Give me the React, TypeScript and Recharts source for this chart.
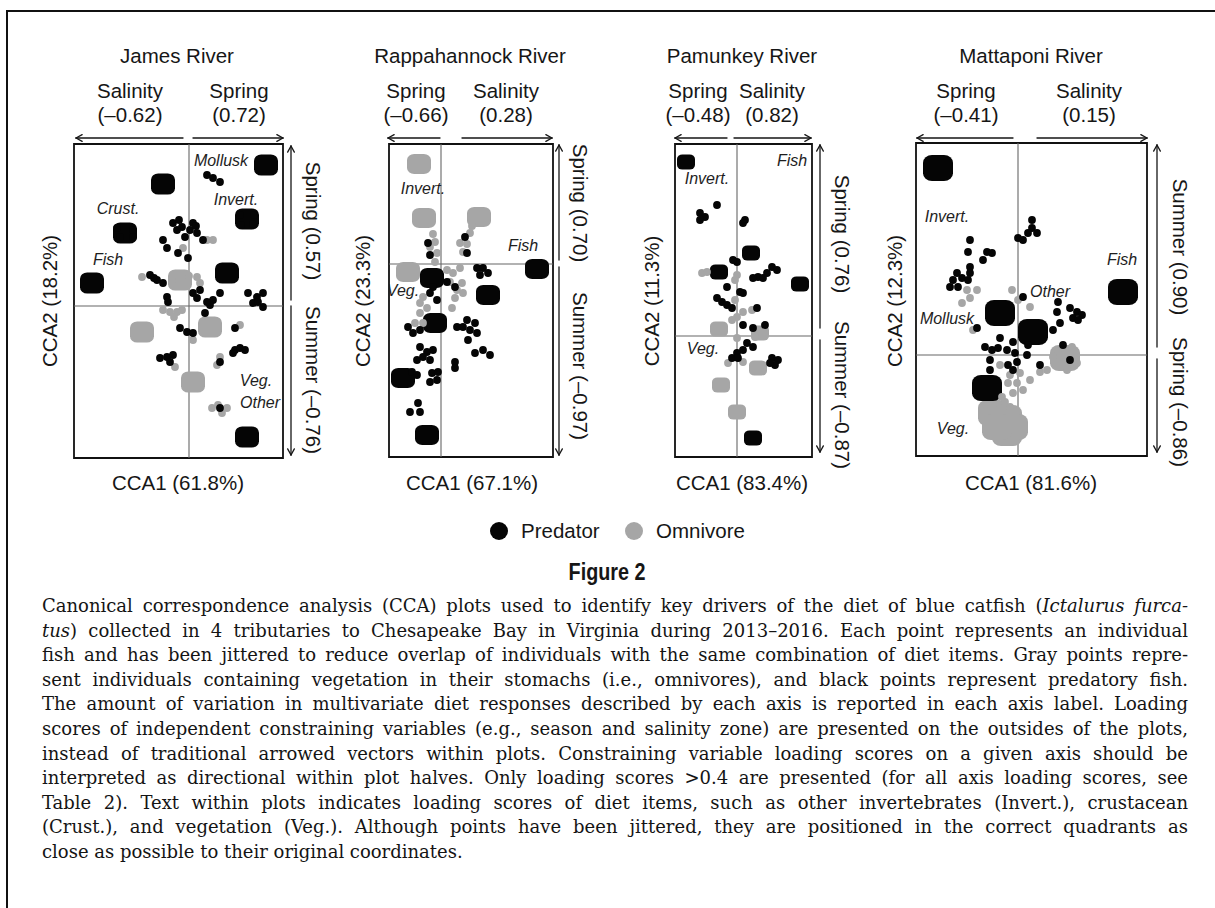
import React from 'react';
import { ScatterChart, Scatter, XAxis, YAxis, ReferenceLine, ReferenceArea } from 'recharts';

type Pt = [number, number];
type DietLabel = { label: string; x: number; y: number };

// ---------------- James River ----------------
const jamesPredator: Pt[] = [
  [0.36, 2.62], [0.48, 2.56], [0.62, 2.48],
  [-0.32, 1.66], [-0.14, 1.58], [0.08, 1.66], [0.16, 1.46], [-0.08, 1.38], [-0.24, 1.52], [0.02, 1.52], [0.28, 1.32], [-0.2, 1.72], [0.14, 1.6],
  [-0.52, 1.32], [-0.44, 1.16], [-0.22, 1.06], [-0.02, 0.96],
  [-0.78, 0.62], [-0.64, 0.52], [-0.52, 0.46], [-0.7, 0.56],
  [0.08, 0.26], [0.22, 0.32], [0.48, 0.12], [0.42, 0.02], [0.32, -0.14], [0.16, 0.16], [0.62, 0.26], [0.36, 0.08],
  [1.18, 0.26], [1.36, 0.18], [1.48, 0.26], [1.28, 0.06], [1.48, -0.02], [1.38, 0.08],
  [-0.44, 0.18], [-0.42, 0.08],
  [-0.18, -0.44], [-0.04, -0.52], [0.08, -0.54],
  [0.92, -0.44],
  [0.92, -0.88], [1.02, -0.84], [1.12, -0.88], [0.88, -0.94],
  [0.62, -1.12],
  [-0.58, -1.04], [-0.44, -1.02], [-0.32, -0.98], [-0.38, -1.12],
  [0.62, -2.04],
  [-1.44, 1.56], [-1.12, 1.52], [-1.38, 1.38], [-1.12, 1.38],
  [1.02, 1.82], [1.3, 1.82], [1.04, 1.62], [1.28, 1.64],
];
const jamesOmnivore: Pt[] = [
  [0.36, 1.32], [0.48, 1.32], [-0.12, 1.16],
  [-0.94, 0.58], [0.16, 0.58], [0.22, 0.46], [-0.34, 0.5], [0.0, 0.6],
  [-0.52, -0.08], [-0.38, -0.12], [-0.24, -0.12], [-0.14, -0.08], [-0.3, -0.22],
  [0.08, -0.68], [1.02, -0.38],
  [0.62, -1.02], [0.56, -1.18],
  [-0.28, -1.22],
  [0.46, -2.04], [0.58, -1.98], [0.76, -2.04], [0.66, -2.14],
];
const jamesPredatorClusters: Pt[] = [
  [1.54, 2.82], [-0.52, 2.44], [1.16, 1.74], [-1.28, 1.46], [-1.94, 0.46], [0.76, 0.66], [1.16, -2.62],
];
const jamesOmnivoreClusters: Pt[] = [
  [-0.18, 0.52], [-0.94, -0.52], [0.42, -0.42], [0.08, -1.52],
];
const jamesDiet: DietLabel[] = [
  { label: 'Mollusk', x: 0.64, y: 2.92 },
  { label: 'Invert.', x: 0.94, y: 2.14 },
  { label: 'Crust.', x: -1.42, y: 1.96 },
  { label: 'Fish', x: -1.62, y: 0.94 },
  { label: 'Veg.', x: 1.34, y: -1.48 },
  { label: 'Other', x: 1.42, y: -1.92 },
];

// ---------------- Rappahannock River ----------------
const rappPredator: Pt[] = [
  [0.48, 0.54], [0.52, 0.22], [-0.26, 0.42], [-0.22, 0.18],
  [0.72, -0.08], [0.84, -0.08], [0.94, -0.18], [0.78, -0.22],
  [0.12, -0.36], [0.28, -0.46],
  [-0.22, -0.58], [-0.08, -0.72], [-0.16, -0.46],
  [-0.66, -1.26], [-0.56, -1.38], [-0.42, -1.32],
  [0.52, -1.12], [0.68, -1.18], [0.44, -1.26], [0.58, -1.32], [0.72, -1.38], [0.54, -1.52], [0.32, -1.26],
  [-0.42, -1.66], [-0.28, -1.76], [-0.16, -1.72], [-0.36, -1.86], [-0.48, -1.92], [-0.22, -1.92],
  [0.84, -1.72], [0.98, -1.82], [0.68, -1.78], [0.28, -1.96], [0.28, -2.08],
  [-0.58, -2.16], [-0.48, -2.22],
  [-0.18, -2.18], [-0.06, -2.16], [-0.22, -2.36], [-0.08, -2.32],
  [-0.46, -2.78], [-0.62, -2.96], [-0.42, -2.96],
];
const rappOmnivore: Pt[] = [
  [0.58, 0.62], [0.62, 0.76], [0.38, 0.42], [0.44, 0.24], [0.52, 0.4],
  [-0.12, 0.44], [-0.22, 0.34], [-0.08, 0.22], [-0.12, 0.04], [-0.16, 0.6],
  [0.12, -0.12], [0.24, -0.18], [0.38, -0.08], [0.18, -0.36], [0.42, -0.38], [0.32, -0.52], [0.44, -0.58], [0.28, -0.68], [0.22, -0.88],
  [-0.36, -0.66], [-0.42, -0.78], [-0.28, -0.88], [-0.42, -0.98], [-0.52, -1.18], [-0.36, -1.18],
];
const rappPredatorClusters: Pt[] = [
  [1.92, -0.1], [-0.18, -0.28], [0.94, -0.62], [-0.12, -1.18], [-0.76, -2.28], [-0.28, -3.42],
];
const rappOmnivoreClusters: Pt[] = [
  [-0.44, 2.0], [-0.34, 0.92], [0.76, 0.94], [-0.66, -0.16],
];
const rappDiet: DietLabel[] = [
  { label: 'Invert.', x: -0.36, y: 1.52 },
  { label: 'Fish', x: 1.64, y: 0.38 },
  { label: 'Veg.', x: -0.76, y: -0.52 },
];

// ---------------- Pamunkey River ----------------
const pamPredator: Pt[] = [
  [-0.4, 2.62], [-0.74, 2.46], [-0.64, 2.38], [-0.74, 2.32], [0.16, 2.32], [0.12, 2.26],
  [0, 1.48], [-0.08, 1.52],
  [0.7, 1.38], [0.8, 1.32], [0.6, 1.26], [0.42, 1.18], [0.52, 1.16], [0.32, 1.16],
  [-0.2, 0.98], [0.12, 0.86], [0.06, 0.88],
  [-0.4, 0.76], [-0.3, 0.68], [-0.2, 0.62], [-0.1, 0.56],
  [0.4, 0.56], [0.12, 0.22], [0.56, 0.22], [0.32, 0.16],
  [0.2, -0.14], [0.32, -0.22], [0.12, -0.28], [0, -0.34], [-0.1, -0.44], [0.02, -0.44],
  [0.7, -0.44], [0.82, -0.48], [0.76, -0.58], [0.66, -0.54],
];
const pamOmnivore: Pt[] = [
  [-0.7, 1.26], [-0.6, 1.28], [0, 1.22], [-0.04, 1.12],
  [-0.04, 0.72], [0.12, 0.48], [0.3, 0.52], [0, 0.38], [-0.1, 0.32],
  [0.36, -0.02], [0, -0.04], [-0.18, -0.54], [0.12, -0.52],
];
const pamPredatorClusters: Pt[] = [
  [-1.02, 3.48], [0.28, 1.66], [-0.36, 1.28], [1.26, 1.04], [0.32, -2.04],
];
const pamOmnivoreClusters: Pt[] = [
  [-0.36, 0.14], [0.46, 0.06], [0.42, -0.64], [-0.32, -0.98], [0, -1.52],
];
const pamDiet: DietLabel[] = [
  { label: 'Invert.', x: -0.6, y: 3.16 },
  { label: 'Fish', x: 1.1, y: 3.52 },
  { label: 'Veg.', x: -0.68, y: -0.24 },
];

// ---------------- Mattaponi River ----------------
const mattPredator: Pt[] = [
  [0.28, 2.7], [0.28, 2.54], [0.38, 2.44], [0.2, 2.44], [0, 2.34], [0.1, 2.3],
  [-0.96, 2.3], [-1, 2.06], [-0.62, 2.06], [-0.52, 2.04], [-0.7, 1.9], [-0.96, 1.76], [-0.96, 1.64], [-1.22, 1.64],
  [-1.3, 1.5], [-1.12, 1.54], [-1.36, 1.36], [-1.2, 1.36], [-1, 1.5],
  [0.1, 1.16], [0.8, 1.06], [0.78, 0.86], [0.84, 0.64], [0.7, 0.5],
  [1.04, 0.94], [1.18, 0.86], [1.28, 0.8], [1.1, 0.74], [1.2, 0.7],
  [-0.82, 0.54],
  [-0.66, 0.16], [-0.52, 0.1], [-0.4, 0.14], [-0.22, 0.1], [-0.36, 0.34], [-0.1, 0.26], [-0.06, 0.04], [-0.56, -0.1],
  [0.2, 0.2], [0.18, 0], [0.44, -0.2], [-0.02, -0.14], [-0.2, -0.2], [-0.1, -0.3], [0.9, 0.2], [1.04, -0.1],
  [-0.56, -0.3],
];
const mattOmnivore: Pt[] = [
  [-1.02, 1.3], [-0.82, 1.3], [-1.12, 1.04], [-0.96, 1.14], [-0.12, 1.3], [0, 1.1], [0.24, 0.96],
  [-0.9, 0.5],
  [0.7, -0.04], [1.18, -0.16], [0.98, -0.3], [0.8, 0.1], [1.08, 0.16],
  [-0.36, -0.2], [-0.16, -0.4], [0.04, -0.36], [0.24, -0.5], [0.44, -0.34], [0.58, -0.3], [-0.02, -0.56], [-0.2, -0.56],
  [0.1, -0.7], [-0.1, -0.76], [-0.26, -0.94], [-0.16, -1.04], [-0.32, -0.84],
];
const mattPredatorClusters: Pt[] = [
  [-1.6, 3.74], [2.1, 1.26], [-0.36, 0.84], [0.3, 0.46], [-0.62, -0.66],
];
const mattOmnivoreClusters: Pt[] = [
  [0.94, -0.06], [-0.5, -1.16], [-0.22, -1.26], [-0.22, -1.56], [-0.1, -1.44], [-0.42, -1.44],
];
const mattDiet: DietLabel[] = [
  { label: 'Invert.', x: -1.42, y: 2.78 },
  { label: 'Fish', x: 2.08, y: 1.92 },
  { label: 'Other', x: 0.64, y: 1.28 },
  { label: 'Mollusk', x: -1.42, y: 0.74 },
  { label: 'Veg.', x: -1.3, y: -1.46 },
];

// ---------------- Text ----------------
const riverNames = ['James River', 'Rappahannock River', 'Pamunkey River', 'Mattaponi River'];
const xAxisLabels = ['CCA1 (61.8%)', 'CCA1 (67.1%)', 'CCA1 (83.4%)', 'CCA1 (81.6%)'];
const yAxisLabels = ['CCA2 (18.2%)', 'CCA2 (23.3%)', 'CCA2 (11.3%)', 'CCA2 (12.3%)'];
const topLoadings: [string, string][][] = [
  [['Salinity', '(–0.62)'], ['Spring', '(0.72)']],
  [['Spring', '(–0.66)'], ['Salinity', '(0.28)']],
  [['Spring', '(–0.48)'], ['Salinity', '(0.82)']],
  [['Spring', '(–0.41)'], ['Salinity', '(0.15)']],
];
const sideLoadings: [string, string][] = [
  ['Spring (0.57)', 'Summer (–0.76)'],
  ['Spring (0.70)', 'Summer (–0.97)'],
  ['Spring (0.76)', 'Summer (–0.87)'],
  ['Summer (0.90)', 'Spring (–0.86)'],
];
const legendItems = ['Predator', 'Omnivore'];
const captionLines = [
  'Canonical correspondence analysis (CCA) plots used to identify key drivers of the diet of blue catfish (',
  ') collected in 4 tributaries to Chesapeake Bay in Virginia during 2013–2016. Each point represents an individual',
  'fish and has been jittered to reduce overlap of individuals with the same combination of diet items. Gray points repre-',
  'sent individuals containing vegetation in their stomachs (i.e., omnivores), and black points represent predatory fish.',
  'The amount of variation in multivariate diet responses described by each axis is reported in each axis label. Loading',
  'scores of independent constraining variables (e.g., season and salinity zone) are presented on the outsides of the plots,',
  'instead of traditional arrowed vectors within plots. Constraining variable loading scores on a given axis should be',
  'interpreted as directional within plot halves. Only loading scores >0.4 are presented (for all axis loading scores, see',
  'Table 2). Text within plots indicates loading scores of diet items, such as other invertebrates (Invert.), crustacean',
  '(Crust.), and vegetation (Veg.). Although points have been jittered, they are positioned in the correct quadrants as',
  'close as possible to their original coordinates.',
];

// ---------------- Layout (styles only) ----------------
const SANS = '"Liberation Sans", Arial, Helvetica, sans-serif';
const INK = '#161616';
const PRED = '#050505';
const OMNI = '#a6a6a6';
const FS = 20.5;

type Layout = {
  box: { l: number; t: number; r: number; b: number };
  origin: { x: number; y: number };
  blob: [number, number];
  titleX: number;
  topX: [number, number];
  leftArrow: [number, number];
  rightArrow: [number, number];
  sideArrowX: number;
  upArrow: [number, number];
  downArrow: [number, number];
  sideX: number;
  sideY: [number, number];
  yLabelX: number;
  xLabelX: number;
};
const PX_PER_UNIT = 50;
const layouts: Layout[] = [
  { box: { l: 74, t: 144, r: 283, b: 458 }, origin: { x: 189, y: 306 }, blob: [24, 21], titleX: 177, topX: [130, 239],
    leftArrow: [183, 76], rightArrow: [193, 283], sideArrowX: 291, upArrow: [300, 146], downArrow: [306, 455],
    sideX: 306, sideY: [221, 380], yLabelX: 57, xLabelX: 178 },
  { box: { l: 389, t: 144, r: 553, b: 457 }, origin: { x: 441, y: 264 }, blob: [24, 20], titleX: 470, topX: [416, 506],
    leftArrow: [440, 388], rightArrow: [462, 552], sideArrowX: 559, upArrow: [260, 145], downArrow: [267, 455],
    sideX: 573, sideY: [203, 366], yLabelX: 370, xLabelX: 472 },
  { box: { l: 675, t: 144, r: 812, b: 457 }, origin: { x: 737, y: 336 }, blob: [18, 15], titleX: 742, topX: [698, 772],
    leftArrow: [727, 675], rightArrow: [734, 811], sideArrowX: 820, upArrow: [328, 145], downArrow: [340, 452],
    sideX: 835, sideY: [234, 395], yLabelX: 659, xLabelX: 742 },
  { box: { l: 916, t: 143, r: 1147, b: 456 }, origin: { x: 1018, y: 355 }, blob: [30, 26], titleX: 1031, topX: [966, 1089],
    leftArrow: [1013, 917], rightArrow: [1037, 1147], sideArrowX: 1157, upArrow: [347, 145], downArrow: [359, 452],
    sideX: 1173, sideY: [247, 402], yLabelX: 902, xLabelX: 1031 },
];

const panelData = [
  { pred: jamesPredator, omni: jamesOmnivore, predC: jamesPredatorClusters, omniC: jamesOmnivoreClusters, diet: jamesDiet },
  { pred: rappPredator, omni: rappOmnivore, predC: rappPredatorClusters, omniC: rappOmnivoreClusters, diet: rappDiet },
  { pred: pamPredator, omni: pamOmnivore, predC: pamPredatorClusters, omniC: pamOmnivoreClusters, diet: pamDiet },
  { pred: mattPredator, omni: mattOmnivore, predC: mattPredatorClusters, omniC: mattOmnivoreClusters, diet: mattDiet },
];

const toXY = (pts: Pt[]) => pts.map(([x, y]) => ({ x, y }));

const dotShape = (fill: string) => (p: any) => <circle cx={p.cx} cy={p.cy} r={3.9} fill={fill} />;
const blobShape = (fill: string, w: number, h: number) => (p: any) => (
  <rect x={p.cx - w / 2} y={p.cy - h / 2} width={w} height={h} rx={w * 0.3} ry={h * 0.3} fill={fill} />
);
const dietShape = (p: any) => (
  <text x={p.cx} y={p.cy} textAnchor="middle" dominantBaseline="central" fontStyle="italic"
    fontSize={16} fontFamily={SANS} fill="#1e1e1e">{p.payload?.label}</text>
);

function Panel({ i }: { i: number }) {
  const L = layouts[i];
  const D = panelData[i];
  const pad = 14;
  const w = L.box.r - L.box.l;
  const h = L.box.b - L.box.t;
  const xDomain: [number, number] = [(L.box.l - L.origin.x) / PX_PER_UNIT, (L.box.r - L.origin.x) / PX_PER_UNIT];
  const yDomain: [number, number] = [(L.origin.y - L.box.b) / PX_PER_UNIT, (L.origin.y - L.box.t) / PX_PER_UNIT];
  return (
    <div style={{ position: 'absolute', left: L.box.l - pad, top: L.box.t - pad }}>
      <ScatterChart width={w + 2 * pad} height={h + 2 * pad} margin={{ top: pad, right: pad, bottom: pad, left: pad }}>
        <XAxis type="number" dataKey="x" domain={xDomain} hide allowDataOverflow />
        <YAxis type="number" dataKey="y" domain={yDomain} hide allowDataOverflow />
        <ReferenceLine x={0} stroke="#666" strokeWidth={1.1} />
        <ReferenceLine y={0} stroke="#666" strokeWidth={1.1} />
        <Scatter data={toXY(D.omniC)} shape={blobShape(OMNI, L.blob[0], L.blob[1])} isAnimationActive={false} />
        <Scatter data={toXY(D.predC)} shape={blobShape(PRED, L.blob[0], L.blob[1])} isAnimationActive={false} />
        <Scatter data={toXY(D.omni)} shape={dotShape(OMNI)} isAnimationActive={false} />
        <Scatter data={toXY(D.pred)} shape={dotShape(PRED)} isAnimationActive={false} />
        <Scatter data={D.diet} shape={dietShape} isAnimationActive={false} />
        <ReferenceArea x1={xDomain[0]} x2={xDomain[1]} y1={yDomain[0]} y2={yDomain[1]}
          fill="none" fillOpacity={0} stroke="#111" strokeWidth={1.8} ifOverflow="visible" />
      </ScatterChart>
    </div>
  );
}

function Arrow({ x1, y1, x2, y2 }: { x1: number; y1: number; x2: number; y2: number }) {
  const ang = Math.atan2(y2 - y1, x2 - x1);
  const len = 7;
  const a1 = ang + Math.PI - 0.5;
  const a2 = ang + Math.PI + 0.5;
  return (
    <g stroke={INK} strokeWidth={1.3} fill="none" strokeLinecap="round">
      <line x1={x1} y1={y1} x2={x2} y2={y2} />
      <line x1={x2} y1={y2} x2={x2 + len * Math.cos(a1)} y2={y2 + len * Math.sin(a1)} />
      <line x1={x2} y1={y2} x2={x2 + len * Math.cos(a2)} y2={y2 + len * Math.sin(a2)} />
    </g>
  );
}

function Overlay() {
  const t = { fontFamily: SANS, fontSize: FS, fill: INK } as const;
  return (
    <svg width={1215} height={908} style={{ position: 'absolute', left: 0, top: 0, pointerEvents: 'none' }}>
      {layouts.map((L, i) => (
        <g key={i}>
          <text x={L.titleX} y={63} textAnchor="middle" {...t}>{riverNames[i]}</text>
          {topLoadings[i].map(([name, score], k) => (
            <g key={k}>
              <text x={L.topX[k]} y={98} textAnchor="middle" {...t}>{name}</text>
              <text x={L.topX[k]} y={122} textAnchor="middle" {...t}>{score}</text>
            </g>
          ))}
          <Arrow x1={L.leftArrow[0]} y1={138} x2={L.leftArrow[1]} y2={138} />
          <Arrow x1={L.rightArrow[0]} y1={138} x2={L.rightArrow[1]} y2={138} />
          <Arrow x1={L.sideArrowX} y1={L.upArrow[0]} x2={L.sideArrowX} y2={L.upArrow[1]} />
          <Arrow x1={L.sideArrowX} y1={L.downArrow[0]} x2={L.sideArrowX} y2={L.downArrow[1]} />
          {sideLoadings[i].map((s, k) => (
            <text key={k} transform={`translate(${L.sideX},${L.sideY[k]}) rotate(90)`} textAnchor="middle" {...t}>{s}</text>
          ))}
          <text transform={`translate(${L.yLabelX},301) rotate(-90)`} textAnchor="middle" {...t}>{yAxisLabels[i]}</text>
          <text x={L.xLabelX} y={490} textAnchor="middle" {...t}>{xAxisLabels[i]}</text>
        </g>
      ))}
      <circle cx={499} cy={531} r={9} fill={PRED} />
      <text x={521} y={538} {...t}>{legendItems[0]}</text>
      <circle cx={634} cy={531} r={9} fill={OMNI} />
      <text x={656} y={538} {...t}>{legendItems[1]}</text>
      <text transform="translate(607,580) scale(0.86,1)" textAnchor="middle" fontFamily={SANS}
        fontWeight="bold" fontSize={23} fill={INK}>Figure 2</text>
    </svg>
  );
}

function Caption() {
  const lineStyle: React.CSSProperties = {
    textAlign: 'justify', textAlignLast: 'justify', whiteSpace: 'nowrap', height: 24.6,
  };
  return (
    <div style={{ position: 'absolute', left: 42, top: 594, width: 1146, fontFamily: '"DejaVu Serif", serif',
      fontSize: 18, lineHeight: '24.6px', color: '#141414' }}>
      <div style={lineStyle}>{captionLines[0]}<i>Ictalurus furca-</i></div>
      <div style={lineStyle}><i>tus</i>{captionLines[1]}</div>
      {captionLines.slice(2, 10).map((s, k) => <div key={k} style={lineStyle}>{s}</div>)}
      <div style={{ whiteSpace: 'nowrap', height: 24.6 }}>{captionLines[10]}</div>
    </div>
  );
}

export default function App() {
  return (
    <div style={{ position: 'fixed', left: 0, top: 0, width: 1215, height: 908, overflow: 'hidden', background: '#fff' }}>
      <div style={{ position: 'absolute', left: 6, top: 10, width: 1300, height: 1000,
        borderTop: '2px solid #111', borderLeft: '2px solid #111' }} />
      {layouts.map((_, i) => <Panel key={i} i={i} />)}
      <Overlay />
      <Caption />
    </div>
  );
}
